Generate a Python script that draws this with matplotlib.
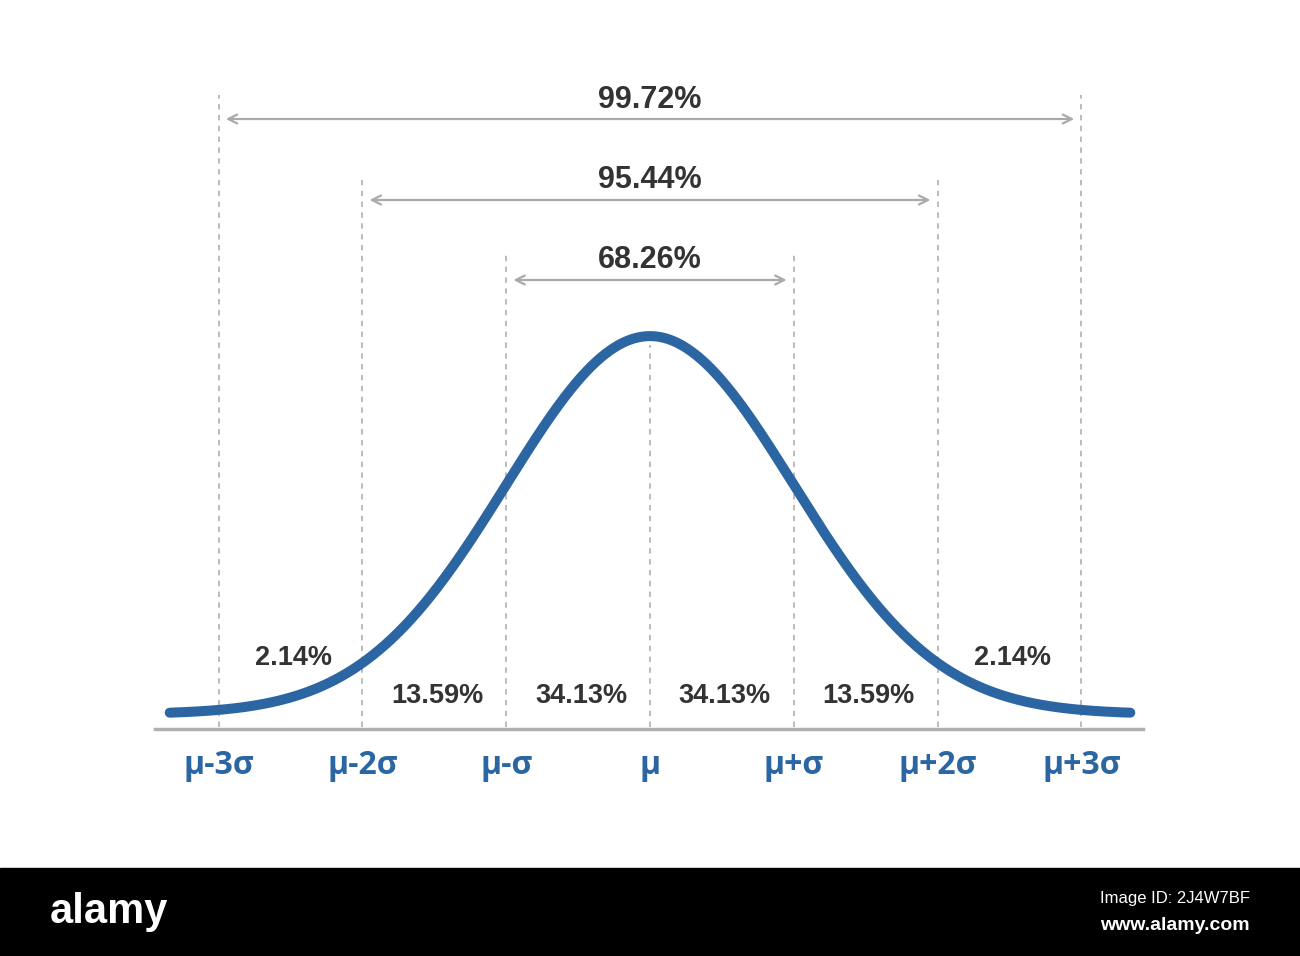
import numpy as np
import matplotlib
matplotlib.use("Agg")
import matplotlib.pyplot as plt

ticks = [-3, -2, -1, 0, 1, 2, 3]
tick_labels = ["μ-3σ", "μ-2σ", "μ-σ", "μ", "μ+σ", "μ+2σ", "μ+3σ"]
band_labels = ["2.14%", "13.59%", "34.13%", "34.13%", "13.59%", "2.14%"]
band_x = [-2.5, -1.5, -0.5, 0.5, 1.5, 2.5]
span_labels = ["68.26%", "95.44%", "99.72%"]
span_k = [1, 2, 3]

BLUE = "#2b66a3"
DARK = "#333333"
GRAY = "#aaaaaa"

fig = plt.figure(figsize=(13, 9.56), dpi=100)
ax = fig.add_axes([0, 0, 1, 1])
S = 143.8
ax.set_xlim(-650 / S, 650 / S)
H = 378.0
py = lambda p: (716 - p) / H
ax.set_ylim(py(956), py(0))
ax.axis("off")

x = np.linspace(-3.34, 3.34, 600)
ax.plot(x, np.exp(-x**2 / 2) + 0.005, color=BLUE, lw=7.2, solid_capstyle="round", zorder=3)
ax.plot([(155 - 650) / S, (1143 - 650) / S], [py(729)] * 2, color="#b0b0b0", lw=2.5, zorder=2)

tops = {0: py(345), 1: py(255), 2: py(177), 3: py(95)}
for t in ticks:
    ax.plot([t, t], [py(727), tops[abs(t)]], color="#b5b5b5", lw=1.3, ls=(0, (3, 3)), zorder=1)
    ax.text(t, py(766), tick_labels[ticks.index(t)], ha="center", va="center",
            fontsize=23, fontweight="bold", color=BLUE, family="Open Sans")

arrow_y = {1: py(280), 2: py(200), 3: py(119)}
label_y = {1: py(260), 2: py(180), 3: py(100)}
for lab, k in zip(span_labels, span_k):
    ax.annotate("", xy=(k - 0.05, arrow_y[k]), xytext=(-k + 0.05, arrow_y[k]),
                arrowprops=dict(arrowstyle="<->", color=GRAY, lw=1.6, mutation_scale=16,
                                shrinkA=0, shrinkB=0))
    ax.text(0.0, label_y[k], lab, ha="center", va="center", fontsize=22,
            fontweight="bold", color=DARK, family="Liberation Sans")

for bx, lab in zip(band_x, band_labels):
    yy = py(658) if abs(bx) > 2 else py(696)
    ax.text(bx + 0.02, yy, lab, ha="center", va="center",
            fontsize=19.5, fontweight="bold", color=DARK, family="Liberation Sans")

fig.patches.append(plt.Rectangle((0, 0), 1, 88 / 956, transform=fig.transFigure,
                                 color="black", zorder=0))
fig.text(50 / 1300, 44 / 956, "alamy", color="white", fontsize=30, fontweight="bold",
         va="center", ha="left", family="Liberation Sans")
fig.text(1250 / 1300, 58 / 956, "Image ID: 2J4W7BF", color="white", fontsize=12,
         va="center", ha="right", family="Liberation Sans")
fig.text(1250 / 1300, 30 / 956, "www.alamy.com", color="white", fontsize=14,
         fontweight="bold", va="center", ha="right", family="Liberation Sans")

fig.savefig("out.png", dpi=100, facecolor="white")
